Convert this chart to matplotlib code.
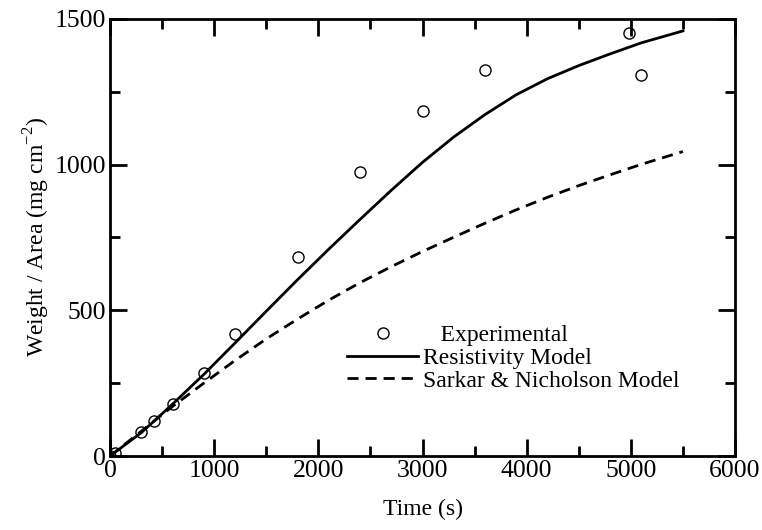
import matplotlib.pyplot as plt
from matplotlib.ticker import MultipleLocator

plt.rcParams['font.family'] = ['Liberation Serif', 'DejaVu Serif']
plt.rcParams['mathtext.fontset'] = 'custom'
plt.rcParams['mathtext.rm'] = 'Liberation Serif'

# experimental points
exp_t = [0, 50, 300, 420, 600, 900, 1200, 1800, 2400, 3000, 3600, 4980, 5100]
exp_w = [0, 10, 82, 120, 178, 285, 418, 683, 975, 1184, 1325, 1452, 1308]

# resistivity model
res_t = [0, 300, 600, 900, 1200, 1500, 1800, 2100, 2400, 2700, 3000, 3300, 3600,
         3900, 4200, 4500, 4800, 5100, 5500]
res_w = [0, 80, 178, 280, 388, 497, 605, 710, 812, 912, 1008, 1095, 1172,
         1240, 1295, 1340, 1380, 1418, 1459]

# Sarkar & Nicholson model
sn_t = [0, 300, 600, 900, 1200, 1500, 1800, 2100, 2400, 2700, 3000, 3300, 3600,
        3900, 4200, 4500, 4800, 5100, 5500]
sn_w = [0, 85, 170, 250, 328, 402, 470, 535, 595, 650, 702, 751, 799,
        845, 888, 928, 965, 1001, 1045]

fig = plt.figure(figsize=(7.62, 5.30), dpi=100)
ax = fig.add_axes([0.1444, 0.1396, 0.8202, 0.8246])

ax.plot(exp_t, exp_w, 'o', mfc='none', mec='black', ms=8, mew=1.0, label='   Experimental')
ax.plot(res_t, res_w, '-', color='black', lw=2, label='Resistivity Model')
ax.plot(sn_t, sn_w, '--', color='black', lw=2, dashes=(4, 2.5), label='Sarkar & Nicholson Model')

ax.set_xlim(0, 6000)
ax.set_ylim(0, 1500)
ax.xaxis.set_major_locator(MultipleLocator(1000))
ax.xaxis.set_minor_locator(MultipleLocator(500))
ax.yaxis.set_major_locator(MultipleLocator(500))
ax.yaxis.set_minor_locator(MultipleLocator(250))
ax.tick_params(which='both', direction='in', top=True, right=True, width=2, labelsize=18.5)
ax.tick_params(which='major', length=12, pad=3)
ax.tick_params(which='minor', length=7)
for s in ax.spines.values():
    s.set_linewidth(2)

ax.set_xlabel('Time (s)', fontsize=17, labelpad=12)
ax.set_ylabel('Weight / Area (mg cm$^{\\mathrm{-2}}$)', fontsize=17, labelpad=2)

ax.legend(loc='lower left', bbox_to_anchor=(0.361, 0.12), frameon=False, fontsize=17,
          handlelength=3.0, handletextpad=0.2, labelspacing=0.05, borderpad=0)

fig.savefig('out.png', dpi=100)
